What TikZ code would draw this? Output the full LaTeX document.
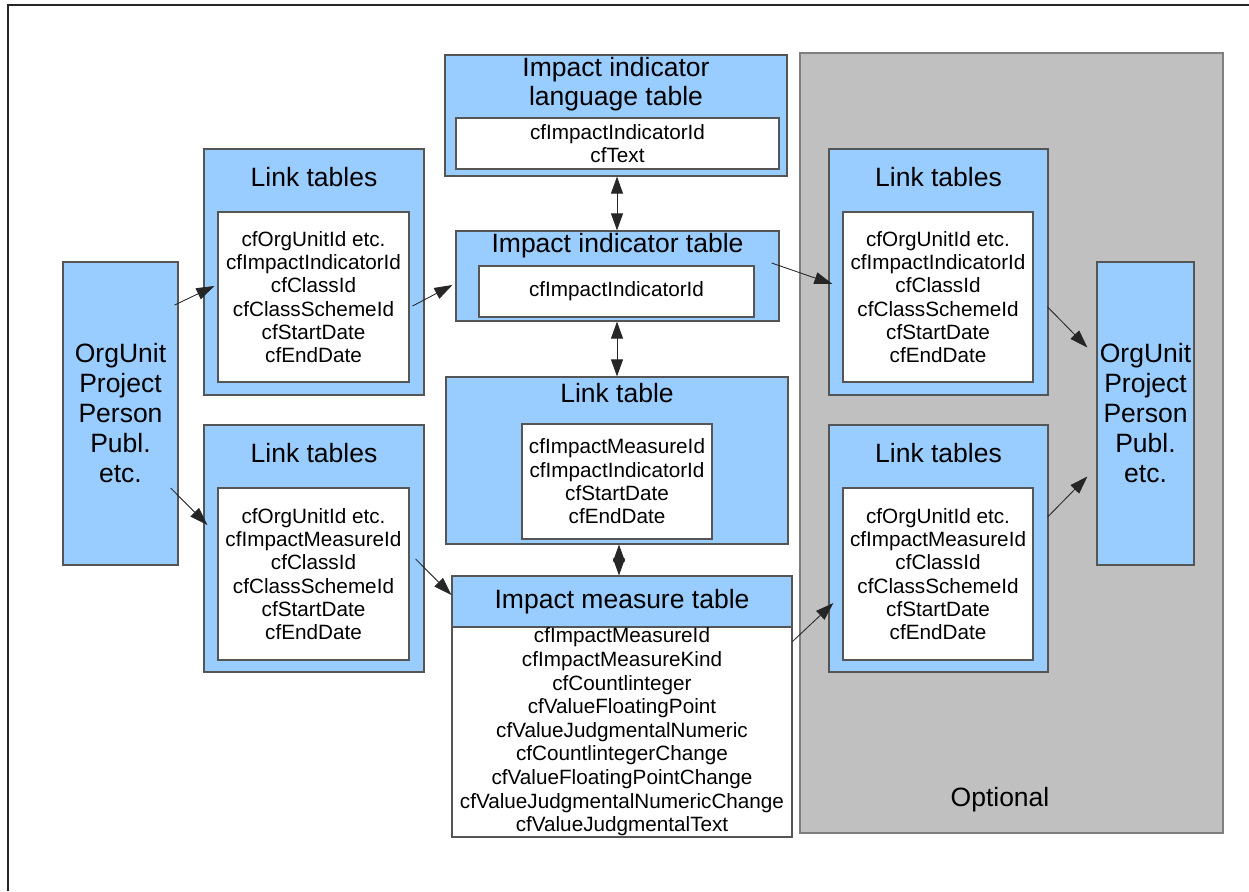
\documentclass[tikz,border=0pt]{standalone}
\usepackage{fontspec}
\setmainfont{Liberation Sans}
\usetikzlibrary{arrows.meta}
\definecolor{boxblue}{HTML}{99CCFF}
\definecolor{boxedge}{HTML}{555555}
\definecolor{optgrey}{HTML}{C0C0C0}
\definecolor{optedge}{HTML}{7F7F7F}
\begin{document}
\begin{tikzpicture}[x=1pt,y=-1pt,
  outerbox/.style={draw=boxedge, fill=boxblue, line width=1.2pt, inner sep=0pt},
  innerbox/.style={draw=boxedge, fill=white, line width=1.2pt, inner sep=0pt, align=center, font=\fontsize{20.7}{23.3}\selectfont},
  titletext/.style={font=\fontsize{26.5}{29}\selectfont, inner sep=0pt, align=center},
  orgbox/.style={outerbox, align=center, font=\fontsize{26.5}{30}\selectfont},
  optbox/.style={draw=optedge, fill=optgrey, line width=1.8pt, inner sep=0pt},
  arr/.style={-{Triangle[length=18pt,width=12pt]}, line width=0.8pt, draw=black!85, fill=black},
  dbl/.style={{Triangle[length=17pt,width=12pt]}-{Triangle[length=17pt,width=12pt]}, line width=0.8pt, draw=black!85, fill=black},
  frameline/.style={draw=black!85, line width=1.6pt}]
\useasboundingbox (0,0) rectangle (1249,891);
\draw[frameline] (8,891) -- (8,5) -- (1249,5);

% optional area
\node[optbox, minimum width=423pt, minimum height=780pt] (opt) at (1011.5,443) {};
\node[titletext] (optlbl) at (1000,800) {Optional};

% left org
\node[orgbox, minimum width=115pt, minimum height=303pt] (orgL) at (120.5,413.5) {OrgUnit\\Project\\Person\\Publ.\\etc.};

% left link tables
\node[outerbox, minimum width=220pt, minimum height=246pt] (ltA) at (314,272) {};
\node[titletext] (ltAt) at (314,177) {Link tables};
\node[innerbox, minimum width=191pt, minimum height=170pt] (ltAi) at (313.5,297)
  {cfOrgUnitId etc.\\cfImpactIndicatorId\\cfClassId\\cfClassSchemeId\\cfStartDate\\cfEndDate};

\node[outerbox, minimum width=220pt, minimum height=247pt] (ltB) at (314,548.5) {};
\node[titletext] (ltBt) at (314,453) {Link tables};
\node[innerbox, minimum width=191pt, minimum height=172pt] (ltBi) at (313.5,574)
  {cfOrgUnitId etc.\\cfImpactMeasureId\\cfClassId\\cfClassSchemeId\\cfStartDate\\cfEndDate};

% centre column
\node[outerbox, minimum width=342pt, minimum height=121pt] (lang) at (616,115.5) {};
\node[titletext] (langt) at (616,84.5) {Impact indicator\\language table};
\node[innerbox, minimum width=323pt, minimum height=51pt] (langi) at (617.5,143.5)
  {cfImpactIndicatorId\\cfText};

\node[outerbox, minimum width=323pt, minimum height=90pt] (ind) at (617.5,276) {};
\node[titletext] (indt) at (617.5,246) {Impact indicator table};
\node[innerbox, minimum width=275pt, minimum height=51pt] (indi) at (616.5,291.5)
  {cfImpactIndicatorId};

\node[outerbox, minimum width=342pt, minimum height=167pt] (linkT) at (617,460.5) {};
\node[titletext] (linkTt) at (617,393) {Link table};
\node[innerbox, minimum width=190pt, minimum height=115pt] (linkTi) at (617,481.5)
  {cfImpactMeasureId\\cfImpactIndicatorId\\cfStartDate\\cfEndDate};

\node[outerbox, minimum width=340pt, minimum height=51pt, font=\fontsize{26.5}{29}\selectfont] (measH) at (622,601.5) {Impact measure table};
\node[innerbox, minimum width=340pt, minimum height=210pt, font=\fontsize{20.7}{23.6}\selectfont] (measL) at (622,732)
  {cfImpactMeasureId\\cfImpactMeasureKind\\cfCountlinteger\\cfValueFloatingPoint\\cfValueJudgmentalNumeric\\cfCountlintegerChange\\cfValueFloatingPointChange\\cfValueJudgmentalNumericChange\\cfValueJudgmentalText};

% right link tables
\node[outerbox, minimum width=219pt, minimum height=246pt] (ltC) at (938.5,272) {};
\node[titletext] (ltCt) at (938.5,177) {Link tables};
\node[innerbox, minimum width=190pt, minimum height=170pt] (ltCi) at (938,297)
  {cfOrgUnitId etc.\\cfImpactIndicatorId\\cfClassId\\cfClassSchemeId\\cfStartDate\\cfEndDate};

\node[outerbox, minimum width=219pt, minimum height=247pt] (ltD) at (938.5,548.5) {};
\node[titletext] (ltDt) at (938.5,453) {Link tables};
\node[innerbox, minimum width=190pt, minimum height=172pt] (ltDi) at (938,574)
  {cfOrgUnitId etc.\\cfImpactMeasureId\\cfClassId\\cfClassSchemeId\\cfStartDate\\cfEndDate};

% right org
\node[orgbox, minimum width=97pt, minimum height=303pt] (orgR) at (1145.5,413.5) {OrgUnit\\Project\\Person\\Publ.\\etc.};

% connectors
\draw[arr] ([shift={(-4,-108.5)}]orgL.east) -- ([shift={(11,14)}]ltA.west);
\draw[arr] ([shift={(-8,74.5)}]orgL.east) -- ([shift={(4,-23.5)}]ltB.west);
\draw[arr] ([shift={(-12,34)}]ltA.east) -- ([shift={(-3,9)}]ind.west);
\draw[arr] ([shift={(-9,10.5)}]ltB.east) -- ([shift={(0,-6.5)}]measH.west);
\draw[arr] ([shift={(-8,-13)}]ind.east) -- ([shift={(4,12)}]ltC.west);
\draw[arr] ([shift={(0,15)}]measL.north east) -- ([shift={(5,54.5)}]ltD.west);
\draw[arr] ([shift={(-1,35)}]ltC.east) -- ([shift={(-9,-66)}]orgR.west);
\draw[arr] ([shift={(-1,-31.5)}]ltD.east) -- ([shift={(-9,63)}]orgR.west);

\draw[dbl] (lang.south -| 617,0) -- (ind.north -| 617,0);
\draw[dbl] (ind.south -| 617,0) -- (linkT.north -| 617,0);
\draw[dbl] (linkT.south -| 619,0) -- (measH.north -| 619,0);
\end{tikzpicture}
\end{document}
